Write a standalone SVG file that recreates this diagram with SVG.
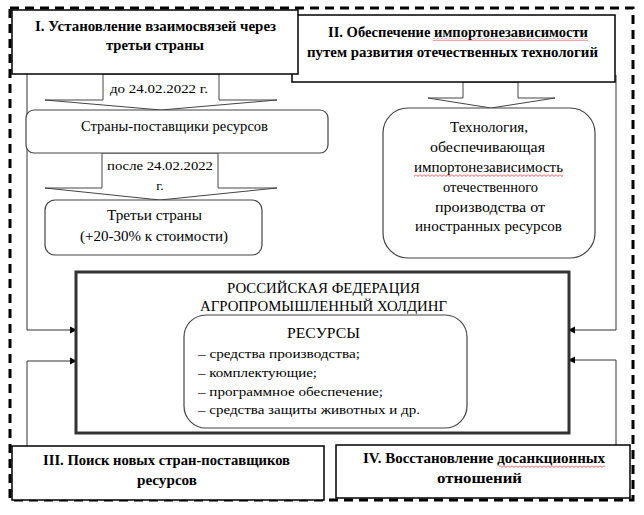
<svg xmlns="http://www.w3.org/2000/svg" width="644" height="515" viewBox="0 0 644 515">
<style>
  .t { font-family: "Liberation Serif", "Times New Roman", serif; font-size: 14px; fill: #000; }
  .b { font-weight: bold; }
  .s { font-size: 13.5px; }
  .mid { text-anchor: middle; }
  .box { fill: #fff; stroke: #000; stroke-width: 1.5; }
  .rbox { fill: #fff; stroke: #444; stroke-width: 1.2; }
  .barrow { fill: #fff; stroke: #444; stroke-width: 1; }
  .conn { fill: none; stroke: #333; stroke-width: 1; marker-end: url(#ah); }
  .sq { fill: url(#squig); }
</style>
<defs>
  <marker id="ah" markerWidth="8" markerHeight="8" refX="7" refY="4" orient="auto" markerUnits="userSpaceOnUse">
    <path d="M0,0.5 L7,4 L0,7.5 Z" fill="#000"/>
  </marker>
  <pattern id="squig" width="4" height="3" patternUnits="userSpaceOnUse">
    <path d="M0,0.5 L2,2.5 L4,0.5" fill="none" stroke="#e02020" stroke-width="0.8"/>
  </pattern>
</defs>
<rect width="644" height="515" fill="#fff"/>

<!-- outer dashed frame -->
<rect id="frame" x="10" y="8" width="623" height="492" fill="none" stroke="#000" stroke-width="3" stroke-dasharray="9 6"/>

<!-- connectors -->
<g id="connectors">
  <path class="conn" d="M27,74 V330 H77"/>
  <path class="conn" d="M27,446 V361 H77"/>
  <path class="conn" d="M616,75 V330 H568"/>
  <path class="conn" d="M616,445 V360 H568"/>
  <polygon class="barrow" points="103,74 219,74 219,100 277,100 161,110 45,100 103,100"/>
  <polygon class="barrow" points="102,153 218,153 218,188 277,188 160,200 45,188 102,188"/>
  <polygon class="barrow" points="463,82 518,82 518,98 555,98 491,108 428,98 463,98"/>
  <text class="t s" x="110" y="93" textLength="98" lengthAdjust="spacingAndGlyphs">до 24.02.2022 г.</text>
  <text class="t s" x="107" y="170" textLength="106" lengthAdjust="spacingAndGlyphs">после 24.02.2022</text>
  <text class="t s mid" x="160" y="190">г.</text>
</g>

<!-- II -->
<g id="node-II">
  <rect class="box" x="292" y="15" width="323" height="67"/>
  <text class="t b" x="328" y="36.5" textLength="260" lengthAdjust="spacingAndGlyphs">II. Обеспечение импортонезависимости</text>
  <text class="t b" x="307" y="56.5" textLength="291" lengthAdjust="spacingAndGlyphs">путем развития отечественных технологий</text>
  <rect class="sq" x="433" y="38" width="155" height="3"/>
</g>

<!-- I -->
<g id="node-I">
  <rect class="box" x="12" y="10" width="286" height="64"/>
  <text class="t b" x="35" y="31" textLength="241" lengthAdjust="spacingAndGlyphs">I. Установление взаимосвязей через</text>
  <text class="t b" x="106" y="50" textLength="98" lengthAdjust="spacingAndGlyphs">третьи страны</text>
</g>

<g id="node-suppliers">
  <rect class="rbox" x="26" y="110" width="302" height="43" rx="8"/>
  <text class="t" x="81" y="131" textLength="187" lengthAdjust="spacingAndGlyphs">Страны-поставщики ресурсов</text>
</g>

<g id="node-third">
  <rect class="rbox" x="45" y="200" width="217" height="55" rx="10"/>
  <text class="t" x="107" y="220" textLength="95" lengthAdjust="spacingAndGlyphs">Третьи страны</text>
  <text class="t" x="80" y="241" textLength="148" lengthAdjust="spacingAndGlyphs">(+20-30% к стоимости)</text>
</g>

<g id="node-tech">
  <rect class="rbox" x="383" y="108" width="212" height="150" rx="25"/>
  <text class="t" x="450" y="132" textLength="78" lengthAdjust="spacingAndGlyphs">Технология,</text>
  <text class="t" x="430" y="152" textLength="115" lengthAdjust="spacingAndGlyphs">обеспечивающая</text>
  <text class="t" x="414" y="172" textLength="149" lengthAdjust="spacingAndGlyphs">импортонезависимость</text>
  <rect class="sq" x="414" y="174" width="149" height="3"/>
  <text class="t" x="443" y="192" textLength="95" lengthAdjust="spacingAndGlyphs">отечественного</text>
  <text class="t" x="435" y="212" textLength="110" lengthAdjust="spacingAndGlyphs">производства от</text>
  <text class="t" x="415" y="231" textLength="147" lengthAdjust="spacingAndGlyphs">иностранных ресурсов</text>
</g>

<g id="node-rf">
  <rect x="76" y="272" width="493" height="161" fill="#fff" stroke="#333" stroke-width="3"/>
  <text class="t" x="227" y="293" textLength="193" lengthAdjust="spacingAndGlyphs">РОССИЙСКАЯ ФЕДЕРАЦИЯ</text>
  <text class="t" x="200" y="311" textLength="247" lengthAdjust="spacingAndGlyphs">АГРОПРОМЫШЛЕННЫЙ ХОЛДИНГ</text>
</g>

<g id="node-resources">
  <rect class="rbox" x="184" y="315" width="283" height="113" rx="22"/>
  <text class="t" x="287" y="338" textLength="73" lengthAdjust="spacingAndGlyphs">РЕСУРСЫ</text>
  <text class="t s" x="198" y="358" textLength="162" lengthAdjust="spacingAndGlyphs">– средства производства;</text>
  <text class="t s" x="198" y="377" textLength="119" lengthAdjust="spacingAndGlyphs">– комплектующие;</text>
  <text class="t s" x="198" y="396" textLength="185" lengthAdjust="spacingAndGlyphs">– программное обеспечение;</text>
  <text class="t s" x="198" y="414" textLength="222" lengthAdjust="spacingAndGlyphs">– средства защиты животных и др.</text>
</g>

<g id="node-III">
  <rect class="box" x="12" y="446" width="312" height="54"/>
  <text class="t b" x="43" y="465" textLength="247" lengthAdjust="spacingAndGlyphs">III. Поиск новых стран-поставщиков</text>
  <text class="t b" x="137" y="485" textLength="60" lengthAdjust="spacingAndGlyphs">ресурсов</text>
</g>

<g id="node-IV">
  <rect class="box" x="336" y="445" width="294" height="53"/>
  <text class="t b" x="363" y="463" textLength="242" lengthAdjust="spacingAndGlyphs">IV. Восстановление досанкционных</text>
  <text class="t b" x="437" y="483" textLength="85" lengthAdjust="spacingAndGlyphs">отношений</text>
  <rect class="sq" x="499" y="465" width="106" height="3"/>
</g>
</svg>
